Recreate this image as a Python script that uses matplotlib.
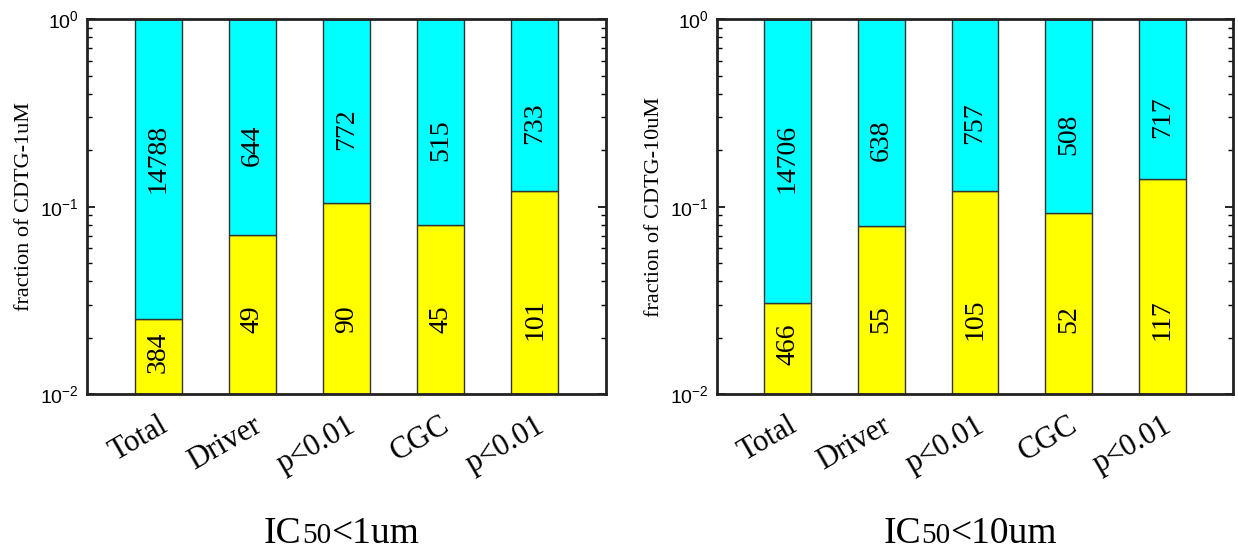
import numpy as np
import matplotlib
matplotlib.use('Agg')
import matplotlib.pyplot as plt
import matplotlib.transforms as mtransforms
from matplotlib.offsetbox import TextArea, HPacker, AnnotationBbox

# Datos
categorias = ['Total', 'Driver', 'p<0.01', 'CGC', 'p<0.01']
pos_1um = [384, 49, 90, 45, 101]
neg_1um = [14788, 644, 772, 515, 733]
pos_10um = [466, 55, 105, 52, 117]
neg_10um = [14706, 638, 757, 508, 717]

ylabels = ['fraction of CDTG-1uM', 'fraction of CDTG-10uM']
titulos = [('IC', '50', '<1um'), ('IC', '50', '<10um')]

SERIF = 'Liberation Serif'
SANS = 'Liberation Sans'

fig = plt.figure(figsize=(12.38, 5.52), dpi=100)
rects = [[0.0703, 0.286, 0.419, 0.679], [0.579, 0.286, 0.417, 0.679]]

paneles = [(pos_1um, neg_1um), (pos_10um, neg_10um)]

for k, (pos, neg) in enumerate(paneles):
    ax = fig.add_axes(rects[k])
    pos = np.array(pos, dtype=float)
    neg = np.array(neg, dtype=float)
    frac = pos / (pos + neg)
    x = np.arange(1, len(categorias) + 1)

    # barra amarilla desde 0.01 hasta la fraccion, cian desde la fraccion hasta 1
    ax.bar(x, frac - 0.01, bottom=0.01, width=0.5, color='#ffff00',
           edgecolor='#333333', linewidth=1.0, zorder=2)
    ax.bar(x, 1 - frac, bottom=frac, width=0.5, color='#00ffff',
           edgecolor='#333333', linewidth=1.0, zorder=2)

    # posiciones de los numeros (aprox. como en el original)
    y_amar = np.minimum(np.sqrt(0.01 * frac) * 1.05, 0.025)
    y_cian = np.maximum(0.8 * np.sqrt(frac), 0.18)
    for xi, ya, yc, p, n in zip(x, y_amar, y_cian, pos, neg):
        ax.text(xi, ya, f'{int(p)}', rotation=90, ha='center',
                va='center', fontsize=20, family=SERIF, zorder=3)
        ax.text(xi, yc, f'{int(n)}', rotation=90, ha='center',
                va='center', fontsize=20, family=SERIF, zorder=3)

    ax.set_yscale('log')
    ax.set_ylim(0.01, 1)
    ax.set_xlim(0.245, 5.755)
    ax.set_xticks(x)
    ax.set_xticklabels(categorias, rotation=30, ha='right', va='top',
                       rotation_mode='anchor', fontsize=22, family=SERIF)
    desplaza = mtransforms.ScaledTranslation(0.22, 0, fig.dpi_scale_trans)
    for lab in ax.get_xticklabels():
        lab.set_transform(lab.get_transform() + desplaza)
    ax.tick_params(axis='x', length=0, pad=12)
    ax.tick_params(axis='y', which='major', direction='in', length=6, width=1.2,
                   right=True, labelsize=14, pad=6)
    ax.tick_params(axis='y', which='minor', direction='in', length=3.5, width=1.0,
                   right=True)
    for lab in ax.get_yticklabels():
        lab.set_family(SANS)
    ax.set_ylabel(ylabels[k], fontsize=16, family=SERIF, labelpad=4)
    for sp in ax.spines.values():
        sp.set_linewidth(2)
        sp.set_color('#222222')
        sp.set_zorder(4)

    # titulo inferior: IC50<...
    partes = [TextArea(titulos[k][0], textprops=dict(fontsize=27, family=SERIF)),
              TextArea(titulos[k][1], textprops=dict(fontsize=21, family=SERIF)),
              TextArea(titulos[k][2], textprops=dict(fontsize=27, family=SERIF))]
    caja = HPacker(children=partes, align='baseline', pad=0, sep=0)
    ab = AnnotationBbox(caja, (rects[k][0] + rects[k][2] / 2 - 0.004, 0.033),
                        xycoords='figure fraction', frameon=False,
                        box_alignment=(0.5, 0.5), pad=0)
    fig.add_artist(ab)

fig.savefig('out.png', dpi=100)
